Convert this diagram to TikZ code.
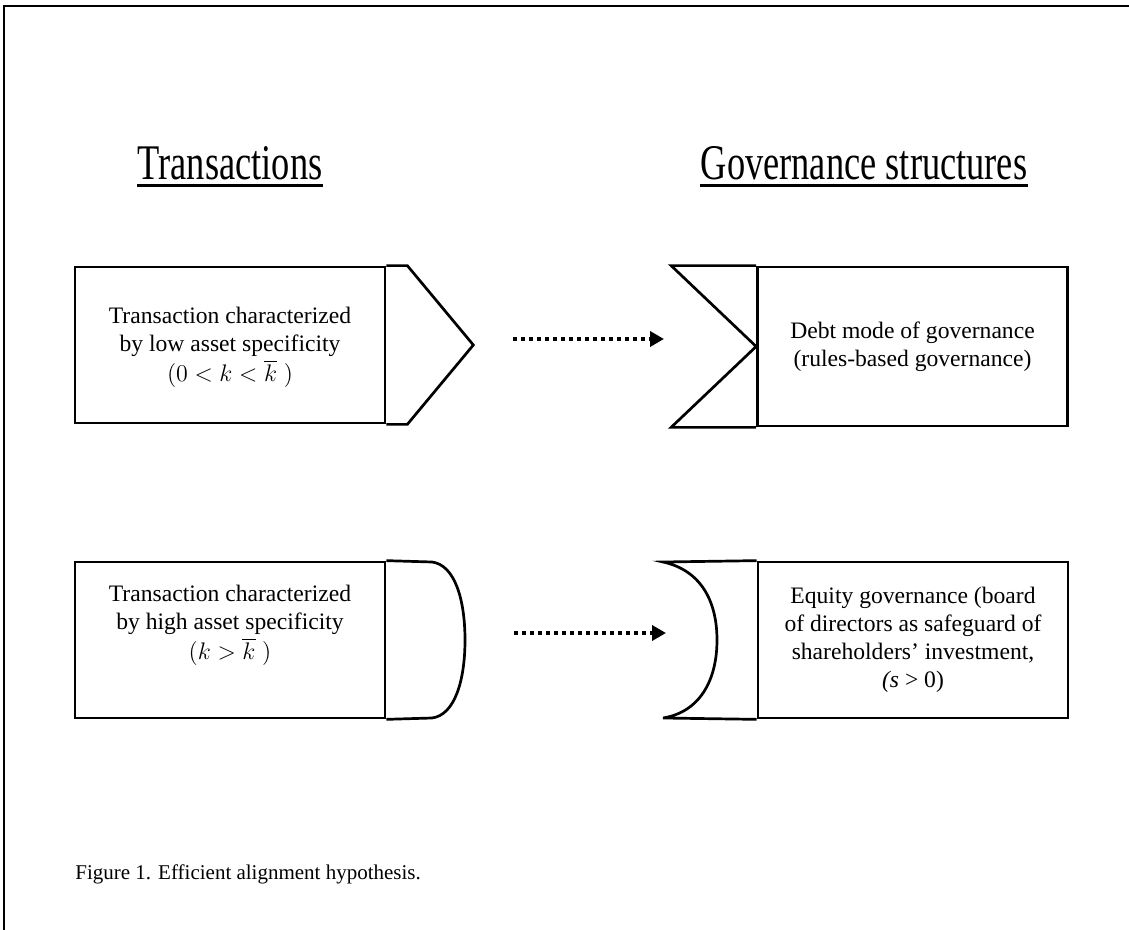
\documentclass[tikz,border=0pt]{standalone}
\usepackage{fontspec}
\setmainfont{Liberation Serif}
\usetikzlibrary{arrows.meta}
\tikzset{
    box/.style={draw, line width=1.35pt, minimum width=155pt, minimum height=78pt, inner sep=0pt},
    tab/.style={line width=1.35pt},
    boxtext/.style={align=center, font=\fontsize{11.8}{14}\selectfont, inner sep=0pt},
    title/.style={font=\fontsize{18.2}{20}\selectfont, inner sep=0pt, anchor=base},
    link/.style={line width=2pt, dash pattern=on 2.2pt off 1.8pt, -{Triangle[length=7pt,width=7.5pt]}},
}
\begin{document}
\begin{tikzpicture}[x=0.5pt, y=-0.5pt]
    \useasboundingbox (0,0) rectangle (1129,930);
    \draw[line width=1.1pt] (4,930) -- (4,6) -- (1129,6);
    % headings
    \node[title] (trans) at (230,180) {\scalebox{1}[1.37]{Transactions}};
    \node[title] (gov) at (864,180) {\scalebox{1}[1.37]{Governance structures}};
    \draw[line width=1.2pt] ([yshift=-2.8pt]trans.base west) -- ([yshift=-2.8pt]trans.base east);
    \draw[line width=1.2pt] ([yshift=-2.8pt]gov.base west) -- ([yshift=-2.8pt]gov.base east);
    % low asset specificity
    \node[box] (low) at (230,345) {};
    \node[boxtext] (lowtext) at ([yshift=-1pt]low.center) {Transaction characterized\\by low asset specificity\\[1pt]$(0<k<\overline{k}\;)$};
    \draw[tab] (low.north east) -- ++(21,0) -- ([xshift=43.5pt]low.east) -- ([xshift=10.5pt]low.south east) -- (low.south east);
    \node[box, minimum height=79.5pt] (debt) at (912.5,346.5) {};
    \node[boxtext] (debttext) at (debt.center) {Debt mode of governance\\(rules-based governance)};
    \draw[tab] (debt.north west) -- ++(-85,0) -- (debt.west) -- ([xshift=-42.5pt]debt.south west) -- (debt.south west);
    \coordinate (lows) at (513,339);
    \coordinate (lowe) at (664,339);
    \draw[link] (lows) -- (lowe);
    % high asset specificity
    \node[box] (high) at (230,640) {};
    \node[boxtext] (hightext) at ([yshift=7.5pt]high.center) {Transaction characterized\\by high asset specificity\\[1pt]$(k>\overline{k}\;)$};
    \draw[tab] (high.north east) -- (432,562) .. controls (455,565) and (465,600) .. (465,640)
        .. controls (465,680) and (455,715) .. (432,718) -- (high.south east);
    \node[box] (equity) at (913,640) {};
    \node[boxtext] (equitytext) at (equity.center) {Equity governance (board\\of directors as safeguard of\\shareholders' investment,\\{\itshape (s} > 0)};
    \draw[tab] (equity.north west) -- (663,562) .. controls (700,570) and (717,600) .. (717,640)
        .. controls (717,680) and (700,712) .. (663,718) -- (equity.south west);
    \coordinate (highs) at (514,633);
    \coordinate (highe) at (666,633);
    \draw[link] (highs) -- (highe);
    % caption
    \node[anchor=base west, inner sep=0pt, font=\fontsize{10.5}{12}\selectfont] (caption) at (75,879) {Figure 1. Efficient alignment hypothesis.};
\end{tikzpicture}
\end{document}
